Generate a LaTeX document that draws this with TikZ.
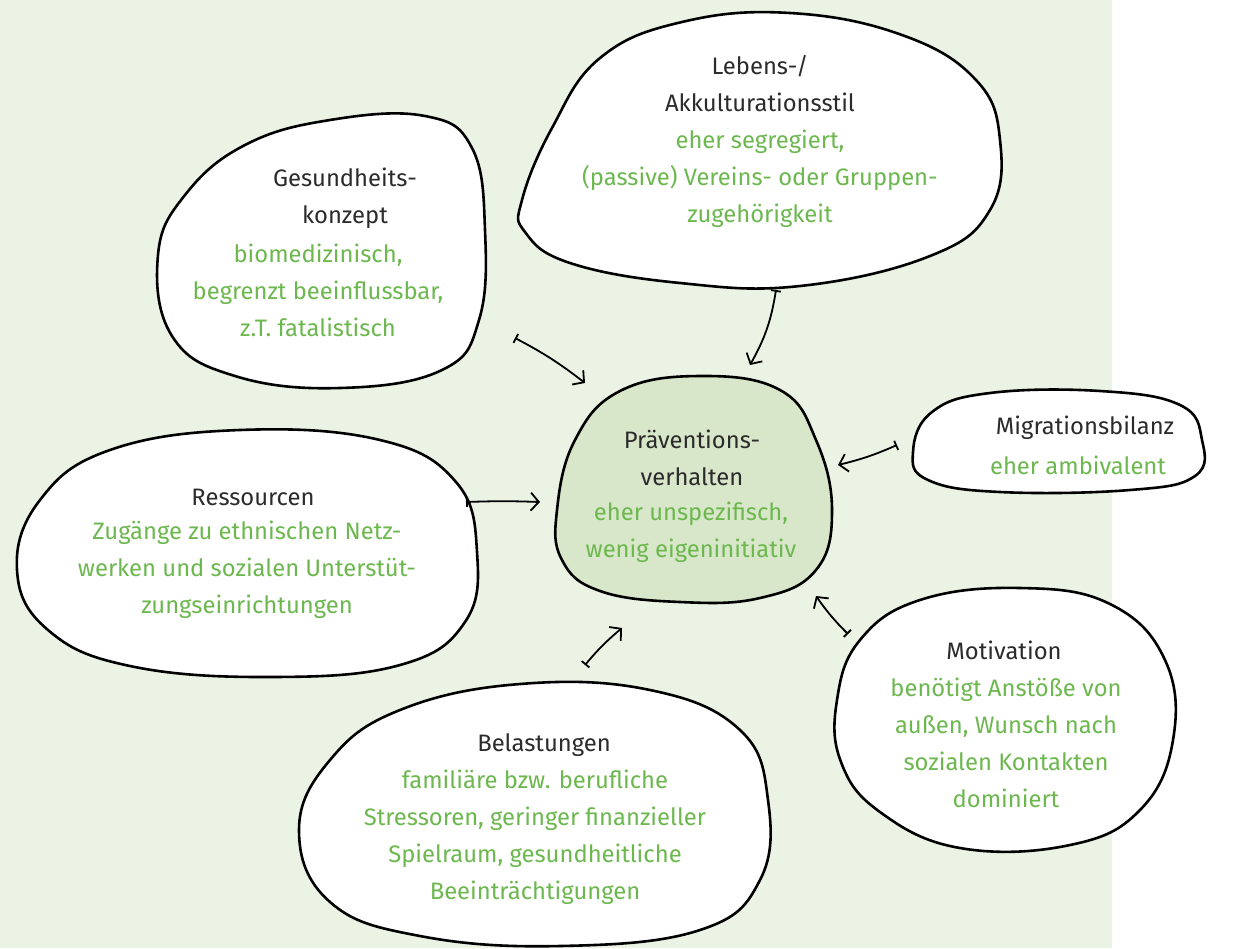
\documentclass[tikz,border=0pt]{standalone}
\usepackage{fontspec}
\setmainfont{Fira Sans}
\usepackage{tikz}
\usetikzlibrary{
	arrows.meta,
	calc,
}
\definecolor{bggreen}{HTML}{EBF3E5}
\definecolor{midgreen}{HTML}{D8E6CA}
\definecolor{txtgreen}{HTML}{6CB84F}
\definecolor{txtdark}{HTML}{2B2B2B}

\begin{document}
\begin{tikzpicture}[x=0.5pt, y=-0.5pt,
		blob/.style={line width=1.3pt, black, fill=white},
		title/.style={text=txtdark, align=center, font=\fontsize{11.9}{18.5}\selectfont, inner sep=0pt},
		info/.style={text=txtgreen, align=center, font=\fontsize{11.9}{18.5}\selectfont, inner sep=0pt},
		link/.style={line width=0.9pt, {Bar[width=5pt]}-{Straight Barb[length=4pt,width=9pt]}},
	]
				\useasboundingbox (0,0) rectangle (1235,948);
				\fill[bggreen] (0,0) rectangle (1112,948);
				% Gesundheitskonzept
				\draw[blob] plot[smooth cycle, tension=0.7] coordinates {(158,255) (185,195) (245,145) (330,120) (425,116) (472,148) (485,230) (479,320) (442,370) (340,388) (235,376) (172,336)};
				% Lebens-/Akkulturationsstil
				\draw[blob] plot[smooth cycle, tension=0.7] coordinates {(522,200) (552,128) (600,58) (682,22) (790,13) (902,35) (976,80) (1000,140) (990,210) (930,256) (800,286) (680,283) (570,263) (525,232)};
				% Migrationsbilanz
				\draw[blob] plot[smooth cycle, tension=0.7] coordinates {(913,452) (932,412) (990,393) (1100,391) (1180,405) (1202,440) (1195,476) (1130,490) (1000,492) (928,480)};
				% Praeventionsverhalten
				\draw[blob, fill=midgreen] plot[smooth cycle, tension=0.7] coordinates {(557,510) (575,440) (620,391) (700,376) (780,390) (816,440) (832,510) (816,570) (760,598) (680,602) (600,591) (562,560)};
				% Ressourcen
				\draw[blob] plot[smooth cycle, tension=0.7] coordinates {(17,570) (40,500) (110,450) (240,430) (380,440) (456,482) (477,552) (465,622) (400,665) (270,677) (130,666) (48,630)};
				% Motivation
				\draw[blob] plot[smooth cycle, tension=0.7] coordinates {(837,700) (860,640) (920,600) (1020,588) (1110,604) (1165,660) (1173,740) (1140,810) (1070,845) (960,848) (880,812) (841,762)};
				% Belastungen
				\draw[blob] plot[smooth cycle, tension=0.7] coordinates {(299,830) (330,760) (400,710) (520,684) (650,690) (740,730) (768,800) (760,880) (700,930) (560,946) (420,936) (330,902)};

				\node[title] (gesT) at (345,198) {Gesundheits-\\konzept};
				\node[info] (gesI) at (318,290) {biomedizinisch,\\begrenzt beeinflussbar,\\z.T. fatalistisch};
				\node[title] (lebT) at (760,84) {Lebens-/\\Akkulturationsstil};
				\node[info] (lebI) at (760,179) {eher segregiert,\\(passive) Vereins- oder Gruppen-\\zugehörigkeit};
				\node[title] (praeT) at (692,458) {Präventions-\\verhalten};
				\node[info] (praeI) at (691,532) {eher unspezifisch,\\wenig eigeninitiativ};
				\node[title] (migT) at (1085,428) {Migrationsbilanz};
				\node[info] (migI) at (1078,465) {eher ambivalent};
				\node[title] (resT) at (253,497) {Ressourcen};
				\node[info] (resI) at (247,570) {Zugänge zu ethnischen Netz-\\werken und sozialen Unterstüt-\\zungseinrichtungen};
				\node[title] (motT) at (1004,650) {Motivation};
				\node[info] (motI) at (1006,743) {benötigt Anstöße von\\außen, Wunsch nach\\sozialen Kontakten\\dominiert};
				\node[title] (belT) at (544,745) {Belastungen};
				\node[info] (belI) at (535,837) {familiäre bzw. berufliche\\Stressoren, geringer finanzieller\\Spielraum, gesundheitliche\\Beeinträchtigungen};

				\coordinate (gesA) at (515,338);
				\coordinate (gesB) at (585,383);
				\coordinate (lebA) at (776,290);
				\coordinate (lebB) at (750,365);
				\coordinate (migA) at (897,445);
				\coordinate (migB) at (838,465);
				\coordinate (motA) at (848,634);
				\coordinate (motB) at (816,596);
				\coordinate (belA) at (585,665);
				\coordinate (belB) at (622,628);
				\coordinate (resA) at (466,502);
				\coordinate (resB) at (540,502);

				\draw[link] (gesA) to[bend left=5] (gesB);
				\draw[link] (lebA) to[bend left=10] (lebB);
				\draw[link] (migA) to[bend left=5] (migB);
				\draw[link] (motA) to[bend left=5] (motB);
				\draw[link] (belA) to[bend left=5] (belB);
				\draw[link] (resA) to[bend left=2] (resB);
			\end{tikzpicture}
\end{document}
